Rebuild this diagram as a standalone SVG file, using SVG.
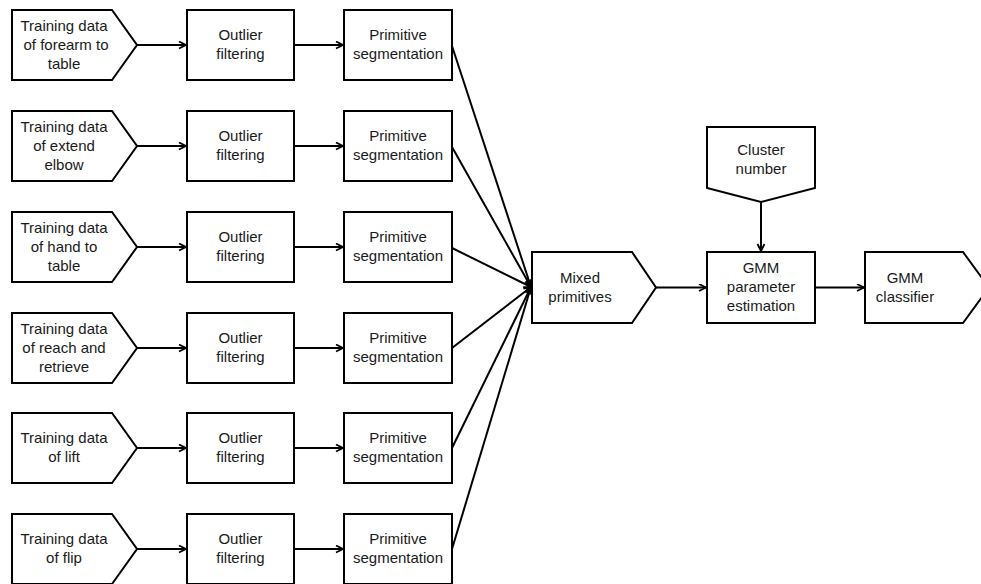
<svg xmlns="http://www.w3.org/2000/svg" width="981" height="584" viewBox="0 0 981 584">
<defs>
<style>
.s{fill:#fff;stroke:#000;stroke-width:2}
.t{font-family:"Liberation Sans",Arial,sans-serif;font-size:15px;fill:#1a1a1a;text-anchor:middle}
.c{fill:none;stroke:#000;stroke-width:2}
</style>
<marker id="a" markerWidth="10" markerHeight="10" refX="8" refY="4" orient="auto" markerUnits="userSpaceOnUse">
<path d="M1,0.5 L8,4 L1,7.5" fill="none" stroke="#000" stroke-width="1.8"/>
</marker>
</defs>
<rect width="981" height="584" fill="#fff"/>

<g id="in1"><path class="s" d="M12,10 H112 L137,45 L112,80 H12 Z"/><text class="t" x="64"><tspan y="31">Training data</tspan><tspan x="66" y="50">of forearm to</tspan><tspan x="64" y="69">table</tspan></text></g>
<g id="of1"><rect class="s" x="187" y="10" width="107" height="70"/><text class="t" x="240.5"><tspan y="40">Outlier</tspan><tspan x="240.5" y="59">filtering</tspan></text></g>
<g id="ps1"><rect class="s" x="344" y="10" width="108" height="70"/><text class="t" x="398"><tspan y="40">Primitive</tspan><tspan x="398" y="59">segmentation</tspan></text></g>

<g id="in2"><path class="s" d="M12,111 H112 L137,146 L112,181 H12 Z"/><text class="t" x="64"><tspan y="132">Training data</tspan><tspan x="64" y="151">of extend</tspan><tspan x="64" y="170">elbow</tspan></text></g>
<g id="of2"><rect class="s" x="187" y="111" width="107" height="70"/><text class="t" x="240.5"><tspan y="141">Outlier</tspan><tspan x="240.5" y="160">filtering</tspan></text></g>
<g id="ps2"><rect class="s" x="344" y="111" width="108" height="70"/><text class="t" x="398"><tspan y="141">Primitive</tspan><tspan x="398" y="160">segmentation</tspan></text></g>

<g id="in3"><path class="s" d="M12,212 H112 L137,247 L112,282 H12 Z"/><text class="t" x="64"><tspan y="233">Training data</tspan><tspan x="64" y="252">of hand to</tspan><tspan x="64" y="271">table</tspan></text></g>
<g id="of3"><rect class="s" x="187" y="212" width="107" height="70"/><text class="t" x="240.5"><tspan y="242">Outlier</tspan><tspan x="240.5" y="261">filtering</tspan></text></g>
<g id="ps3"><rect class="s" x="344" y="212" width="108" height="70"/><text class="t" x="398"><tspan y="242">Primitive</tspan><tspan x="398" y="261">segmentation</tspan></text></g>

<g id="in4"><path class="s" d="M12,313 H112 L137,348 L112,383 H12 Z"/><text class="t" x="64"><tspan y="334">Training data</tspan><tspan x="64" y="353">of reach and</tspan><tspan x="64" y="372">retrieve</tspan></text></g>
<g id="of4"><rect class="s" x="187" y="313" width="107" height="70"/><text class="t" x="240.5"><tspan y="343">Outlier</tspan><tspan x="240.5" y="362">filtering</tspan></text></g>
<g id="ps4"><rect class="s" x="344" y="313" width="108" height="70"/><text class="t" x="398"><tspan y="343">Primitive</tspan><tspan x="398" y="362">segmentation</tspan></text></g>

<g id="in5"><path class="s" d="M12,413 H112 L137,448 L112,483 H12 Z"/><text class="t" x="64"><tspan y="443">Training data</tspan><tspan x="64" y="462">of lift</tspan></text></g>
<g id="of5"><rect class="s" x="187" y="413" width="107" height="70"/><text class="t" x="240.5"><tspan y="443">Outlier</tspan><tspan x="240.5" y="462">filtering</tspan></text></g>
<g id="ps5"><rect class="s" x="344" y="413" width="108" height="70"/><text class="t" x="398"><tspan y="443">Primitive</tspan><tspan x="398" y="462">segmentation</tspan></text></g>

<g id="in6"><path class="s" d="M12,514 H112 L137,549 L112,584 H12 Z"/><text class="t" x="64"><tspan y="544">Training data</tspan><tspan x="64" y="563">of flip</tspan></text></g>
<g id="of6"><rect class="s" x="187" y="514" width="107" height="70"/><text class="t" x="240.5"><tspan y="544">Outlier</tspan><tspan x="240.5" y="563">filtering</tspan></text></g>
<g id="ps6"><rect class="s" x="344" y="514" width="108" height="70"/><text class="t" x="398"><tspan y="544">Primitive</tspan><tspan x="398" y="563">segmentation</tspan></text></g>

<g id="mixed"><path class="s" d="M532,252 H632 L656,287.5 L632,323 H532 Z"/><text class="t" x="580"><tspan y="283">Mixed</tspan><tspan x="580" y="302">primitives</tspan></text></g>
<g id="cluster"><path class="s" d="M707,127 H815 V188 L761,202 L707,188 Z"/><text class="t" x="761"><tspan y="155">Cluster</tspan><tspan x="761" y="174">number</tspan></text></g>
<g id="gmmest"><rect class="s" x="707" y="252" width="108" height="71"/><text class="t" x="761"><tspan y="273">GMM</tspan><tspan x="761" y="292">parameter</tspan><tspan x="761" y="311">estimation</tspan></text></g>
<g id="gmmcls"><path class="s" d="M865,252 H963 L989,287.5 L963,323 H865 Z"/><text class="t" x="905"><tspan y="283">GMM</tspan><tspan x="905" y="302">classifier</tspan></text></g>

<g id="connectors" class="c">
<path d="M137,45 H186" marker-end="url(#a)"/>
<path d="M294,45 H343" marker-end="url(#a)"/>
<path d="M137,146 H186" marker-end="url(#a)"/>
<path d="M294,146 H343" marker-end="url(#a)"/>
<path d="M137,247 H186" marker-end="url(#a)"/>
<path d="M294,247 H343" marker-end="url(#a)"/>
<path d="M137,348 H186" marker-end="url(#a)"/>
<path d="M294,348 H343" marker-end="url(#a)"/>
<path d="M137,448 H186" marker-end="url(#a)"/>
<path d="M294,448 H343" marker-end="url(#a)"/>
<path d="M137,549 H186" marker-end="url(#a)"/>
<path d="M294,549 H343" marker-end="url(#a)"/>
<path d="M452,46 L531,287" marker-end="url(#a)"/>
<path d="M452,147 L531,287" marker-end="url(#a)"/>
<path d="M452,248 L531,287" marker-end="url(#a)"/>
<path d="M452,348 L531,287" marker-end="url(#a)"/>
<path d="M452,448 L531,287" marker-end="url(#a)"/>
<path d="M452,549 L531,287" marker-end="url(#a)"/>
<path d="M656,287.5 H706" marker-end="url(#a)"/>
<path d="M815,287.5 H864" marker-end="url(#a)"/>
<path d="M761,202 V251" marker-end="url(#a)"/>
</g>
</svg>
